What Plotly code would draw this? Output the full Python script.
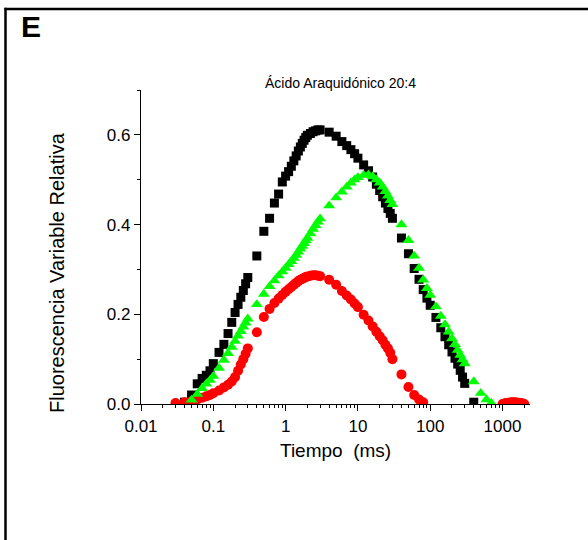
import plotly.graph_objects as go

# ---------------- data ----------------
tiempo_ms = [0.03, 0.04, 0.05, 0.06, 0.07, 0.08, 0.09, 0.10, 0.12, 0.14, 0.16, 0.18, 0.20, 0.22, 0.24, 0.26, 0.28, 0.30,
             0.4, 0.5, 0.6, 0.7, 0.8, 0.9, 1.0, 1.1, 1.2, 1.3, 1.4, 1.5, 1.6, 1.7, 1.8, 1.9, 2.0, 2.2, 2.4, 2.6, 2.8, 3.0,
             4, 5, 6, 7, 8, 9, 10, 12, 14, 16, 18, 20, 22, 24, 26, 28, 30,
             40, 50, 60, 70, 80, 90, 100, 120, 140, 160, 180, 200, 220, 240, 260, 280, 300,
             400, 500, 600, 700, 800, 900, 1000, 1100, 1200, 1300, 1400, 1500, 1600, 1700, 1800, 1900, 2000]

serie_negra = [None, 0.004, 0.020, 0.045, 0.057, 0.064, 0.074, 0.090, 0.115, 0.133, 0.157, 0.182, 0.204, 0.222, 0.238, 0.253, 0.268, 0.282,
               0.330, 0.385, 0.414, 0.448, 0.468, 0.495, 0.508, 0.518, 0.530, 0.542, 0.553, 0.564, 0.573, 0.581, 0.588, 0.594, 0.599, 0.603, 0.607, 0.609, 0.611, 0.611,
               0.606, 0.597, 0.585, 0.576, 0.567, 0.558, 0.548, 0.533, 0.520, 0.506, 0.490, 0.476, 0.462, 0.448, 0.436, 0.425, 0.414,
               0.370, 0.335, 0.302, 0.278, 0.255, 0.236, 0.220, 0.193, 0.170, 0.150, 0.132, 0.116, 0.102, 0.089, 0.075, 0.060, 0.046,
               0.004, None, None, None, None, None, None, None, None, None, None, None, None, None, None, None, None]

serie_verde = [None, None, 0.009, 0.022, 0.035, 0.045, 0.053, 0.062, 0.080, 0.098, 0.113, 0.127, 0.140, 0.152, 0.162, 0.172, 0.181, 0.190,
               0.222, 0.245, 0.262, 0.275, 0.286, 0.295, 0.303, 0.311, 0.318, 0.325, 0.332, 0.339, 0.346, 0.352, 0.358, 0.364, 0.370, 0.380, 0.390, 0.398, 0.406, 0.413,
               0.442, 0.460, 0.473, 0.484, 0.493, 0.500, 0.505, 0.510, 0.511, 0.507, 0.500, 0.493, 0.484, 0.474, 0.464, 0.454, 0.445,
               0.400, 0.365, 0.330, 0.303, 0.277, 0.258, 0.243, 0.217, 0.196, 0.177, 0.161, 0.146, 0.133, 0.120, 0.109, 0.099, 0.090,
               0.050, 0.024, 0.010, 0.002, None, None, None, None, None, None, None, None, None, None, None, None, None]

serie_roja = [0.002, 0.004, 0.006, 0.010, 0.014, 0.017, 0.020, 0.024, 0.030, 0.037, 0.043, 0.050, 0.060, 0.074, 0.088, 0.100, 0.112, 0.124,
              0.160, 0.194, 0.212, 0.225, 0.235, 0.243, 0.250, 0.256, 0.261, 0.266, 0.270, 0.274, 0.277, 0.279, 0.281, 0.283, 0.284, 0.286, 0.287, 0.287, 0.286, 0.285,
              0.277, 0.266, 0.252, 0.242, 0.233, 0.224, 0.216, 0.199, 0.186, 0.173, 0.161, 0.151, 0.142, 0.132, 0.124, 0.114, 0.100,
              0.066, 0.038, 0.020, 0.010, 0.004, None, None, None, None, None, None, None, None, None, None, None, None,
              None, None, None, None, None, None, 0.000, 0.002, 0.003, 0.004, 0.004, 0.004, 0.003, 0.003, 0.002, 0.001, 0.000]

x_tick_vals = [0.01, 0.1, 1, 10, 100, 1000]
x_tick_text = ["0.01", "0.1", "1", "10", "100", "1000"]
y_tick_vals = [0.0, 0.2, 0.4, 0.6]
y_tick_text = ["0.0", "0.2", "0.4", "0.6"]
y_minor_vals = [0.1, 0.3, 0.5, 0.7]

titulo = "Ácido Araquidónico 20:4"
titulo_x = "Tiempo  (ms)"
titulo_y = "Fluorescencia Variable Relativa"
etiqueta_panel = "E"

assert len(tiempo_ms) == len(serie_negra) == len(serie_verde) == len(serie_roja)

x_minor_vals = [m * 10 ** d for d in range(-2, 4) for m in range(2, 10) if m * 10 ** d < 2400]

FONT = "Arial, Liberation Sans, sans-serif"

fig = go.Figure()
fig.add_trace(go.Scatter(x=tiempo_ms, y=serie_negra, mode="markers", name="negra",
                         marker=dict(symbol="square", size=9, color="#000000", line=dict(width=0))))
fig.add_trace(go.Scatter(x=tiempo_ms, y=serie_roja, mode="markers", name="roja",
                         marker=dict(symbol="circle", size=10, color="#FF0000", line=dict(width=0))))
fig.add_trace(go.Scatter(x=tiempo_ms, y=serie_verde, mode="markers", name="verde",
                         marker=dict(symbol="triangle-up", size=10.5, color="#00FF00", line=dict(width=0))))

# plot area: x 141..530 px, y 90..404 px
L, R, T, B = 141, 530, 90, 404
W, H = R - L, B - T

def px(x):
    return (x - L) / W

def py(y):
    return (B - y) / H

fig.update_layout(
    width=588, height=540, autosize=False,
    margin=dict(l=L, r=588 - R, t=T, b=540 - B, pad=0),
    paper_bgcolor="white", plot_bgcolor="white",
    showlegend=False,
    font=dict(family=FONT, color="black"),
    xaxis=dict(type="log", range=[-2, 3.38], showgrid=False, zeroline=False,
               showline=True, linecolor="black", linewidth=1.3,
               ticks="outside", ticklen=6, tickwidth=1.2, tickcolor="black",
               tickvals=x_tick_vals, ticktext=x_tick_text,
               tickfont=dict(size=17, family=FONT, color="black"),
               minor=dict(tickvals=x_minor_vals, ticks="outside", ticklen=3,
                          tickwidth=1, tickcolor="black", showgrid=False)),
    yaxis=dict(range=[0, 0.7], showgrid=False, zeroline=False,
               showline=True, linecolor="black", linewidth=1.3,
               ticks="outside", ticklen=6, tickwidth=1.2, tickcolor="black",
               tickvals=y_tick_vals, ticktext=y_tick_text,
               tickfont=dict(size=17, family=FONT, color="black"),
               minor=dict(tickvals=y_minor_vals, ticks="outside", ticklen=3,
                          tickwidth=1, tickcolor="black", showgrid=False)),
)

fig.add_annotation(text=titulo, xref="paper", yref="paper", x=px(340), y=py(83),
                   xanchor="center", yanchor="middle", showarrow=False,
                   font=dict(size=14, family=FONT, color="black"))
fig.add_annotation(text=titulo_x, xref="paper", yref="paper", x=px(335), y=py(450),
                   xanchor="center", yanchor="middle", showarrow=False,
                   font=dict(size=19, family=FONT, color="black"))
fig.add_annotation(text=titulo_y, xref="paper", yref="paper", x=px(57), y=py(273),
                   xanchor="center", yanchor="middle", showarrow=False, textangle=-90,
                   font=dict(size=20, family=FONT, color="black"))
fig.add_annotation(text="<b>" + etiqueta_panel + "</b>", xref="paper", yref="paper", x=px(19), y=py(27),
                   xanchor="left", yanchor="middle", showarrow=False,
                   font=dict(size=30, family=FONT, color="black"))

# panel frame (top and left edges)
fig.add_shape(type="line", xref="paper", yref="paper", x0=px(4.5), x1=px(600), y0=py(9), y1=py(9),
              line=dict(color="black", width=2.5))
fig.add_shape(type="line", xref="paper", yref="paper", x0=px(5.5), x1=px(5.5), y0=py(7.8), y1=py(560),
              line=dict(color="black", width=2.5))

fig.write_html("out.html", config={"displayModeBar": False},
               post_script="document.body.style.margin='0';document.body.style.overflow='hidden';")
